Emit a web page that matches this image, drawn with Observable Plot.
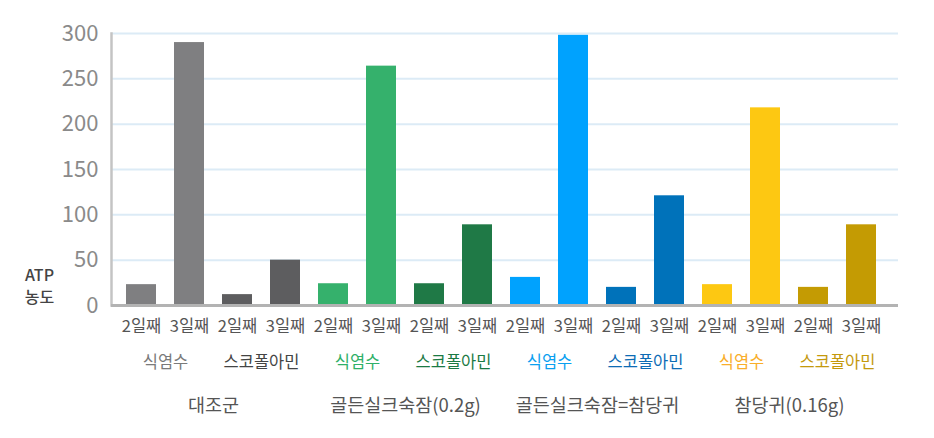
<!DOCTYPE html>
<html>
<head>
<meta charset="utf-8">
<script src="https://cdn.jsdelivr.net/npm/d3@7"></script>
<script src="https://cdn.jsdelivr.net/npm/@observablehq/plot@0.6"></script>
<style>
  html, body { margin: 0; padding: 0; background: #fff; }
  #chart { width: 934px; height: 438px; }
</style>
</head>
<body>
<div id="chart"></div>
<script>
const groups = ["대조군", "골든실크숙잠(0.2g)", "골든실크숙잠=참당귀", "참당귀(0.16g)"];
const treatments = ["식염수", "스코폴아민"];
const days = ["2일째", "3일째"];
const values = [23, 290, 12, 50, 24, 264, 24, 89, 31, 298, 20, 121, 23, 218, 20, 89];
const barColors = ["#7f7f81", "#5d5d5f", "#35b16c", "#1f7946", "#00a2fe", "#0072ba", "#fdc812", "#c49b03"];
const labelColors = ["#7a7a7a", "#444444", "#2fb068", "#1b7a44", "#0aa0f0", "#0d6cb5", "#f9ae2a", "#c4990d"];
const yTicks = [0, 50, 100, 150, 200, 250, 300];
const yTitle = ["ATP", "농도"];

const rows = [];
const pairs = [];
const groupRows = [];
let k = 0, p = 0;
groups.forEach((g) => {
  treatments.forEach((t) => {
    days.forEach((d) => {
      rows.push({id: `${g}|${t}|${d}`, group: g, treatment: t, day: d, value: values[k], color: barColors[p]});
      k++;
    });
    pairs.push({anchor: `${g}|${t}|${days[1]}`, label: t, color: labelColors[p]});
    p++;
  });
  groupRows.push({anchor: `${g}|${treatments[1]}|${days[0]}`, label: g});
});
const ids = rows.map(r => r.id);
const dayOf = new Map(rows.map(r => [r.id, r.day]));

const font = "'Noto Sans CJK KR', 'Noto Sans', sans-serif";

const chart = Plot.plot({
  width: 934,
  height: 438,
  marginLeft: 111,
  marginRight: 36,
  marginTop: 33,
  marginBottom: 133,
  style: {fontFamily: font, background: "#fff"},
  x: {domain: ids, padding: 0.375, insetLeft: -4, insetRight: 3},
  y: {domain: [0, 300]},
  color: {type: "identity"},
  marks: [
    Plot.gridY(yTicks.slice(1), {stroke: "#dcebf6", strokeOpacity: 1, strokeWidth: 2}),
    Plot.frame({anchor: "left", stroke: "#c4c4c4", strokeWidth: 2.5}),
    Plot.barY(rows, {x: "id", y: "value", fill: "color"}),
    Plot.ruleY([0], {stroke: "#b3b3b3", strokeWidth: 3}),
    Plot.axisY({ticks: yTicks, tickSize: 0, tickPadding: 13, fontSize: 22, fill: "#8a8a8a", label: null}),
    Plot.axisX({tickSize: 0, tickPadding: 15, fontSize: 16.5, fill: "#555", label: null, tickFormat: id => dayOf.get(id)}),
    Plot.text(pairs, {x: "anchor", text: "label", fill: "color", frameAnchor: "bottom", dx: -24, dy: 57, lineAnchor: "middle", fontSize: 16.5}),
    Plot.text(groupRows, {x: "anchor", text: "label", fill: "#555", frameAnchor: "bottom", dx: -24, dy: 101, lineAnchor: "middle", fontSize: 18.5}),
    Plot.text([yTitle[0]], {frameAnchor: "bottom-left", dx: -72, dy: -30, textAnchor: "middle", lineAnchor: "middle", fontSize: 16, fill: "#444", fontWeight: 500}),
    Plot.text([yTitle[1]], {frameAnchor: "bottom-left", dx: -72, dy: -8, textAnchor: "middle", lineAnchor: "middle", fontSize: 16, fill: "#444", fontWeight: 500})
  ]
});
document.getElementById("chart").appendChild(chart);
</script>
</body>
</html>
